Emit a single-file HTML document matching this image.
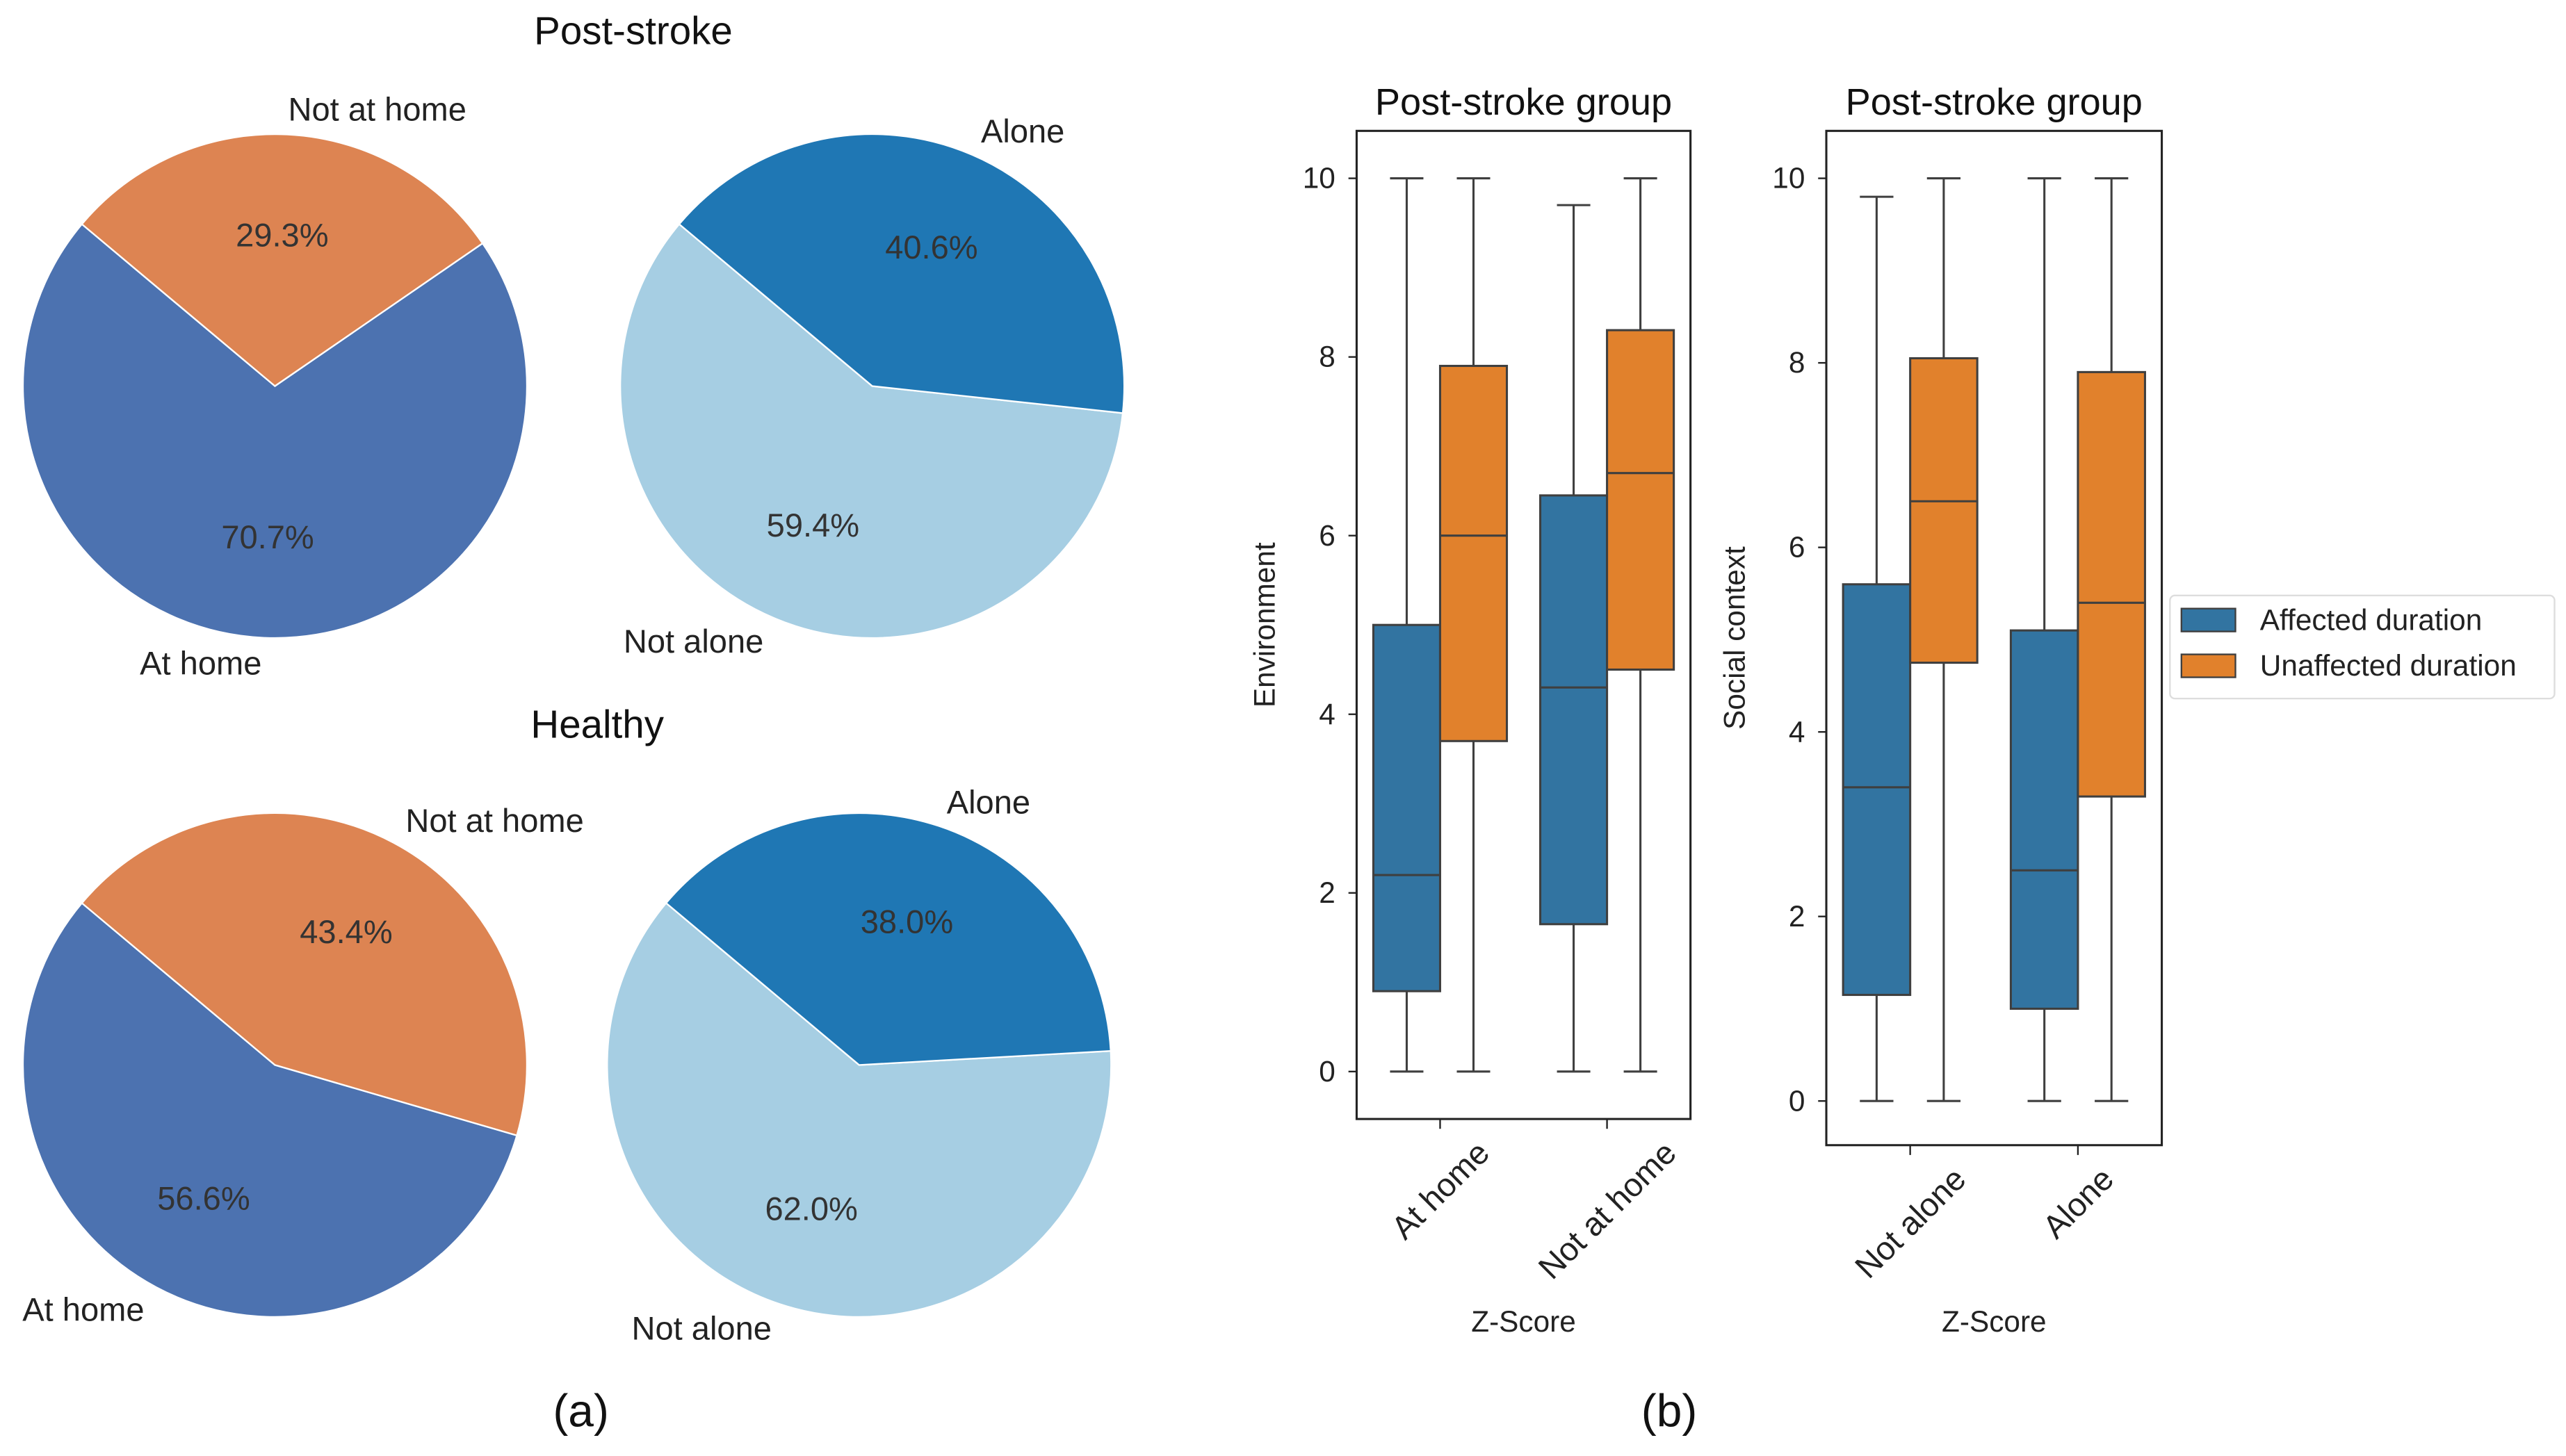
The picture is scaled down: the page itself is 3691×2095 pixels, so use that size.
<!DOCTYPE html>
<html><head><meta charset="utf-8"><style>
html,body{margin:0;padding:0;background:#fff;}
svg{display:block;font-family:"Liberation Sans","DejaVu Sans",sans-serif;}
</style></head><body>
<svg id="fig" width="3691" height="2095" viewBox="0 0 1568 890" preserveAspectRatio="none" xmlns="http://www.w3.org/2000/svg">
<rect width="1568" height="890" fill="#fff"/>
<text x="387" y="27" font-size="24" text-anchor="middle" fill="#111">Post-stroke</text>
<text x="365" y="451" font-size="24" text-anchor="middle" fill="#111">Healthy</text>
<text x="355" y="872" font-size="28" text-anchor="middle" fill="#111">(a)</text>
<text x="1020" y="872" font-size="28" text-anchor="middle" fill="#111">(b)</text>
<g id="pies"></g>
<g id="boxes"></g>
<g>
<rect x="1326" y="364" width="235" height="63" rx="3" fill="#fff" stroke="#ddd"/>
<rect x="1333" y="372" width="33" height="14" fill="#3274a1" stroke="#3f3f3f"/>
<text x="1381" y="385" font-size="18" fill="#222">Affected duration</text>
<rect x="1333" y="400" width="33" height="14" fill="#e1812c" stroke="#3f3f3f"/>
<text x="1381" y="413" font-size="18" fill="#222">Unaffected duration</text>
</g>
</svg>
<script>
const NS="http://www.w3.org/2000/svg";
// ---- Pie data ----
const envLabels=["At home","Not at home"];
const socLabels=["Not alone","Alone"];
const postEnv=[70.7,29.3];
const postSoc=[59.4,40.6];
const healthyEnv=[56.6,43.4];
const healthySoc=[62.0,38.0];
// ---- Box data: [min, q1, median, q3, max] ----
const envCats=["At home","Not at home"];
const socCats=["Not alone","Alone"];
const envAffected=[[0,0.9,2.2,5.0,10],[0,1.65,4.3,6.45,9.7]];
const envUnaffected=[[0,3.7,6.0,7.9,10],[0,4.5,6.7,8.3,10]];
const socAffected=[[0,1.15,3.4,5.6,9.8],[0,1.0,2.5,5.1,10]];
const socUnaffected=[[0,4.75,6.5,8.05,10],[0,3.3,5.4,7.9,10]];
const yTicks=[0,2,4,6,8,10];

function mk(tag,attrs,parent,txt){const e=document.createElementNS(NS,tag);for(const k in attrs)e.setAttribute(k,attrs[k]);if(txt!==undefined)e.textContent=txt;parent.appendChild(e);return e;}

function pie(name,cx,cy,r,vals,labels,colors){
  const g=mk("g",{},document.getElementById("pies"));
  
  
  const tot=vals.reduce((a,b)=>a+b,0);
  let a0=140;
  vals.forEach((v,i)=>{
    const span=v/tot*360,a1=a0+span;
    const r0=a0*Math.PI/180,r1=a1*Math.PI/180;
    const x0=cx+r*Math.cos(r0),y0=cy-r*Math.sin(r0),x1=cx+r*Math.cos(r1),y1=cy-r*Math.sin(r1);
    const p=mk("path",{d:`M${cx},${cy}L${x0},${y0}A${r},${r} 0 ${span>180?1:0} 0 ${x1},${y1}Z`,fill:colors[i],stroke:"#fff","stroke-width":1},g);
    
    
    const m=(a0+span/2)*Math.PI/180;
    const t=mk("text",{x:cx+0.6*r*Math.cos(m),y:cy-0.6*r*Math.sin(m)+7,"font-size":20,"text-anchor":"middle",fill:"#333"},g,v.toFixed(1)+"%");
    
    
    const lx=cx+1.1*r*Math.cos(m),ly=cy-1.1*r*Math.sin(m);
    const l=mk("text",{x:lx,y:ly+7,"font-size":20,"text-anchor":Math.cos(m)>0?"start":"end",fill:"#222"},g,labels[i]);
    
    
    a0=a1;
  });
}
pie("pie-post-environment",168,236,154,postEnv,envLabels,["#4c72b0","#dd8452"]);
pie("pie-post-social",533,236,154,postSoc,socLabels,["#a6cee3","#1f77b4"]);
pie("pie-healthy-environment",168,651,154,healthyEnv,envLabels,["#4c72b0","#dd8452"]);
pie("pie-healthy-social",525,651,154,healthySoc,socLabels,["#a6cee3","#1f77b4"]);

function boxPanel(name,fx0,fx1,fy0,fy1,y0px,y10px,cats,aff,unaff,ylabel,ylabx){
  const g=mk("g",{},document.getElementById("boxes"));
  
  
  const yS=v=>y0px+(y10px-y0px)*v/10;
  const w=fx1-fx0, step=w/cats.length;
  const xC=i=>fx0+step*(i+0.5);
  const t=mk("text",{x:(fx0+fx1)/2,y:fy0-10,"font-size":23,"text-anchor":"middle",fill:"#111"},g,"Post-stroke group");
  
  
  yTicks.forEach(v=>{
    mk("line",{x1:fx0-5,x2:fx0,y1:yS(v),y2:yS(v),stroke:"#222"},g);
    const tl=mk("text",{x:fx0-13,y:yS(v)+6,"font-size":18,"text-anchor":"end",fill:"#222"},g,v);
    
    
  });
  const yl=mk("text",{x:ylabx,y:(fy0+fy1)/2,"font-size":18,"text-anchor":"middle",fill:"#222",transform:`rotate(-90 ${ylabx} ${(fy0+fy1)/2})`},g,ylabel);
  
  
  const bw=step*0.4;
  cats.forEach((c,i)=>{
    const cx=xC(i);
    mk("line",{x1:cx,x2:cx,y1:fy1,y2:fy1+6,stroke:"#222"},g);
    const tl=mk("text",{x:cx,y:fy1,"font-size":20,"text-anchor":"middle",fill:"#222"},g,c);
    
    
    const L=tl.getComputedTextLength();
    const half=(L+20)*0.7071/2;
    const ccx=cx, ccy=fy1+10+half;
    tl.setAttribute("x",ccx);tl.setAttribute("y",ccy+7);
    tl.setAttribute("transform",`rotate(-45 ${ccx} ${ccy})`);
    [[aff[i],"#3274a1",-1],[unaff[i],"#e1812c",1]].forEach(([d,col,s])=>{
      const bx=s<0?cx-bw:cx, mid=bx+bw/2;
      mk("line",{x1:mid,x2:mid,y1:yS(d[0]),y2:yS(d[1]),stroke:"#3f3f3f","stroke-width":1.3},g);
      mk("line",{x1:mid,x2:mid,y1:yS(d[3]),y2:yS(d[4]),stroke:"#3f3f3f","stroke-width":1.3},g);
      mk("line",{x1:mid-bw/4,x2:mid+bw/4,y1:yS(d[0]),y2:yS(d[0]),stroke:"#3f3f3f","stroke-width":1.3},g);
      mk("line",{x1:mid-bw/4,x2:mid+bw/4,y1:yS(d[4]),y2:yS(d[4]),stroke:"#3f3f3f","stroke-width":1.3},g);
      const r=mk("rect",{x:bx,y:yS(d[3]),width:bw,height:yS(d[1])-yS(d[3]),fill:col,stroke:"#3f3f3f","stroke-width":1.3},g);
      
      
      mk("line",{x1:bx,x2:bx+bw,y1:yS(d[2]),y2:yS(d[2]),stroke:"#3f3f3f","stroke-width":1.3},g);
    });
  });
  const f=mk("rect",{x:fx0,y:fy0,width:w,height:fy1-fy0,fill:"none",stroke:"#222","stroke-width":1.3},g);
  
  
  const xl=mk("text",{x:(fx0+fx1)/2,y:814,"font-size":18,"text-anchor":"middle",fill:"#222"},g,"Z-Score");
  
  
}
boxPanel("boxplot-environment",829,1033,80,684,655,109,envCats,envAffected,envUnaffected,"Environment",779);
boxPanel("boxplot-social-context",1116,1321,80,700,673,109,socCats,socAffected,socUnaffected,"Social context",1066);
</script>
</body></html>
